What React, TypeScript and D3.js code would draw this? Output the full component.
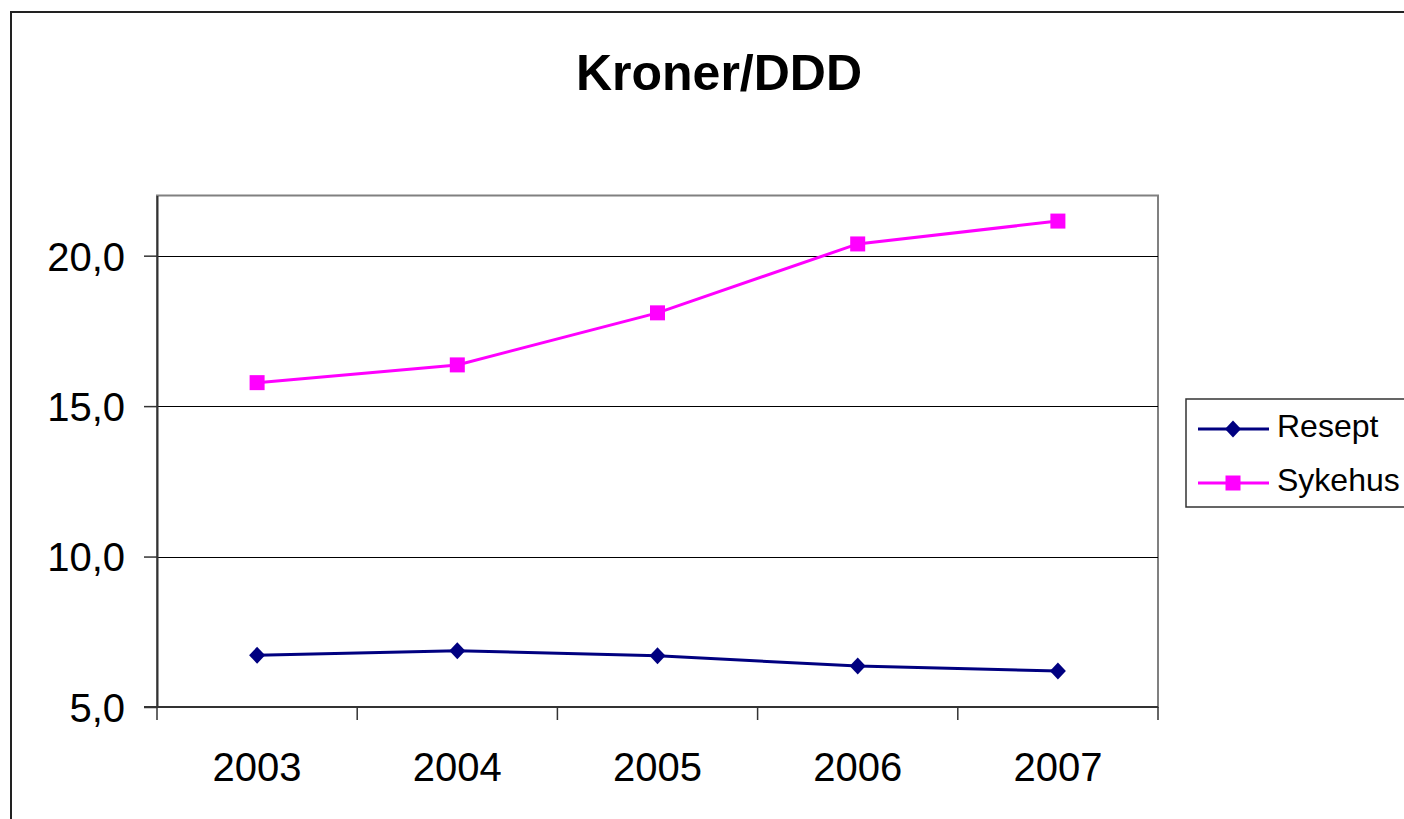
import React, { useEffect, useRef } from "react";
import * as d3 from "d3";

const years = ["2003", "2004", "2005", "2006", "2007"];
const resept = [6.72, 6.87, 6.7, 6.36, 6.2];
const sykehus = [15.78, 16.37, 18.1, 20.39, 21.15];
const yTicks = [5, 10, 15, 20];
const seriesNames = ["Resept", "Sykehus"];
const seriesColors = ["#000080", "#FF00FF"];
const title = "Kroner/DDD";

const W = 1404;
const H = 819;
const FONT = "'Liberation Sans', Arial, sans-serif";

export default function App() {
  const ref = useRef<SVGSVGElement | null>(null);

  useEffect(() => {
    const svg = d3.select(ref.current);
    svg.selectAll("*").remove();

    const left = 157, right = 1158, top = 195.5, bottom = 707;

    const x = d3.scaleBand<string>().domain(years).range([left, right]).padding(0);
    const y = d3.scaleLinear().domain([5, 22]).range([bottom, top]);

    // outer chart border
    svg.append("rect")
      .attr("x", 11).attr("y", 12)
      .attr("width", W + 20).attr("height", H + 20)
      .attr("fill", "white")
      .attr("stroke", "#222").attr("stroke-width", 2);

    // title
    svg.append("text")
      .attr("x", 719).attr("y", 90)
      .attr("text-anchor", "middle")
      .attr("font-family", FONT)
      .attr("font-weight", "bold")
      .attr("font-size", 50)
      .attr("fill", "#000")
      .text(title);

    // plot area frame (gray top & right)
    svg.append("rect")
      .attr("x", left).attr("y", top)
      .attr("width", right - left).attr("height", bottom - top)
      .attr("fill", "white")
      .attr("stroke", "#808080").attr("stroke-width", 2);

    // gridlines
    svg.append("g").selectAll("line")
      .data(yTicks.filter((t) => t > 5))
      .join("line")
      .attr("x1", left).attr("x2", right)
      .attr("y1", (d) => Math.round(y(d)) + 0.5).attr("y2", (d) => Math.round(y(d)) + 0.5)
      .attr("stroke", "#000").attr("stroke-width", 1);

    // y axis
    const yAxis = d3.axisLeft(y)
      .tickValues(yTicks)
      .tickSizeInner(13)
      .tickSizeOuter(0)
      .tickPadding(20)
      .tickFormat((d) => d3.format(".1f")(d as number).replace(".", ","));
    const gy = svg.append("g").attr("transform", `translate(${left},0)`).call(yAxis);
    gy.select(".domain").attr("stroke", "#333").attr("stroke-width", 2);
    gy.selectAll(".tick line").attr("stroke", "#333").attr("stroke-width", 1.5);
    gy.selectAll(".tick text")
      .attr("font-family", FONT).attr("font-size", 40).attr("fill", "#000")
      .attr("dy", "0.36em").attr("x", -32);

    // x axis
    const boundaries = [...years.map((d) => x(d) as number), right];
    const gx = svg.append("g");
    gx.append("line")
      .attr("x1", left - 13).attr("x2", right)
      .attr("y1", bottom).attr("y2", bottom)
      .attr("stroke", "#333").attr("stroke-width", 2);
    gx.selectAll("line.tk")
      .data(boundaries)
      .join("line")
      .attr("class", "tk")
      .attr("x1", (d) => d).attr("x2", (d) => d)
      .attr("y1", bottom).attr("y2", bottom + 13)
      .attr("stroke", "#333").attr("stroke-width", 1.5);
    gx.selectAll("text")
      .data(years)
      .join("text")
      .attr("x", (d) => (x(d) as number) + x.bandwidth() / 2)
      .attr("y", 781)
      .attr("text-anchor", "middle")
      .attr("font-family", FONT).attr("font-size", 40).attr("fill", "#000")
      .text((d) => d);

    const cx = (i: number) => (x(years[i]) as number) + x.bandwidth() / 2;
    const line = d3.line<number>().x((_, i) => cx(i)).y((d) => y(d));

    const diamond = (px: number, py: number) =>
      `M${px},${py - 8.5}L${px + 8},${py}L${px},${py + 8.5}L${px - 8},${py}Z`;

    // Resept
    svg.append("path").datum(resept)
      .attr("d", line).attr("fill", "none")
      .attr("stroke", seriesColors[0]).attr("stroke-width", 3);
    svg.append("g").selectAll("path")
      .data(resept).join("path")
      .attr("d", (d, i) => diamond(cx(i), y(d)))
      .attr("fill", seriesColors[0]);

    // Sykehus
    svg.append("path").datum(sykehus)
      .attr("d", line).attr("fill", "none")
      .attr("stroke", seriesColors[1]).attr("stroke-width", 3);
    svg.append("g").selectAll("rect")
      .data(sykehus).join("rect")
      .attr("x", (d, i) => cx(i) - 7.5).attr("y", (d) => y(d) - 7.5)
      .attr("width", 15).attr("height", 15)
      .attr("fill", seriesColors[1]);

    // legend
    const lg = svg.append("g");
    lg.append("rect")
      .attr("x", 1186).attr("y", 399)
      .attr("width", 260).attr("height", 108)
      .attr("fill", "white").attr("stroke", "#333").attr("stroke-width", 1.5);
    const rowsY = [429, 483];
    seriesNames.forEach((name, i) => {
      const ly = rowsY[i];
      lg.append("line")
        .attr("x1", 1198).attr("x2", 1269)
        .attr("y1", ly).attr("y2", ly)
        .attr("stroke", seriesColors[i]).attr("stroke-width", 3);
      if (i === 0) {
        lg.append("path").attr("d", diamond(1233, ly)).attr("fill", seriesColors[i]);
      } else {
        lg.append("rect")
          .attr("x", 1233 - 7.5).attr("y", ly - 7.5)
          .attr("width", 15).attr("height", 15)
          .attr("fill", seriesColors[i]);
      }
      lg.append("text")
        .attr("x", 1277).attr("y", ly + 8)
        .attr("font-family", FONT).attr("font-size", 32).attr("fill", "#000")
        .text(name);
    });
  }, []);

  return (
    <svg
      ref={ref}
      width={W}
      height={H}
      style={{ position: "absolute", left: 0, top: 0, background: "white" }}
    />
  );
}
